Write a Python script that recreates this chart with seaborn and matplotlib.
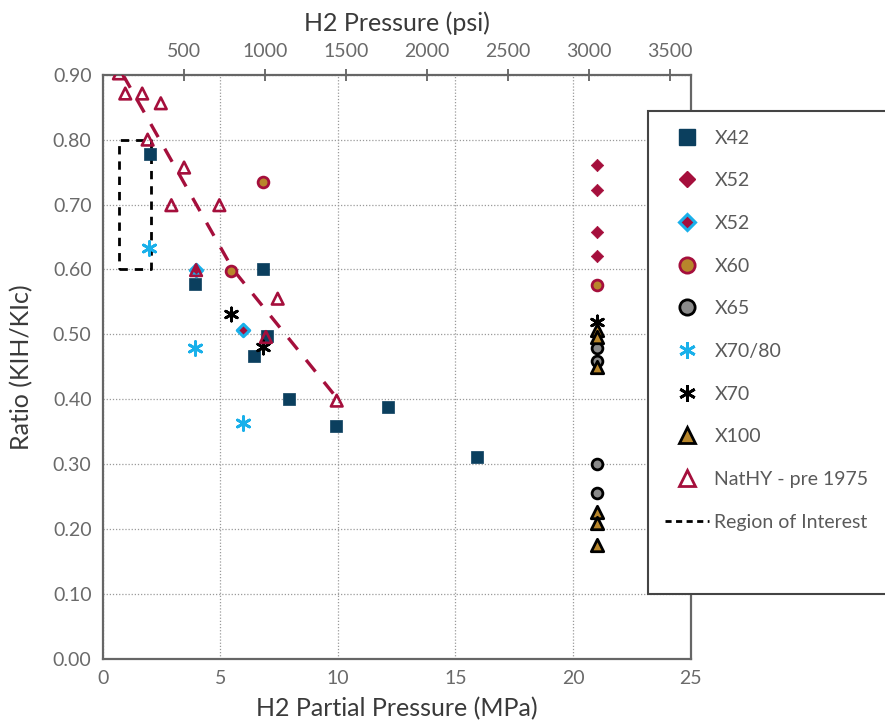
import numpy as np
import pandas as pd
import matplotlib
matplotlib.use("Agg")
import matplotlib.pyplot as plt
import seaborn as sns
from matplotlib.lines import Line2D
from matplotlib.patches import Rectangle

# ---------------- data (MPa, ratio) ----------------
x42_x = [2.02, 3.94, 6.82, 6.44, 6.99, 7.92, 9.92, 12.15, 15.92]
x42_y = [0.778, 0.578, 0.600, 0.467, 0.497, 0.400, 0.359, 0.388, 0.311]

x52_x = [21.03, 21.03, 21.03, 21.03]
x52_y = [0.761, 0.723, 0.657, 0.621]

x52b_x = [3.97, 5.97]
x52b_y = [0.599, 0.507]

x60_x = [6.83, 5.46, 21.03]
x60_y = [0.734, 0.598, 0.576]

x65_x = [21.03, 21.03, 21.03, 21.03]
x65_y = [0.479, 0.459, 0.300, 0.256]

x7080_x = [1.97, 3.94, 5.95]
x7080_y = [0.633, 0.479, 0.364]

x70_x = [5.46, 6.83, 21.03]
x70_y = [0.532, 0.481, 0.519]

x100_x = [21.03, 21.03, 21.03, 21.03, 21.03, 21.03]
x100_y = [0.507, 0.496, 0.450, 0.227, 0.209, 0.176]

nathy_x = [0.69, 0.96, 1.68, 2.47, 1.91, 3.46, 2.92, 4.96, 3.97, 7.44, 6.94, 9.95]
nathy_y = [0.902, 0.871, 0.871, 0.856, 0.800, 0.757, 0.699, 0.699, 0.599, 0.555, 0.496, 0.398]

trend_x = [0.86, 5.54, 10.0]
trend_y = [0.900, 0.600, 0.400]

roi_x = [0.69, 2.07]   # 100 - 300 psi
roi_y = [0.60, 0.80]

xticks = [0, 5, 10, 15, 20, 25]
yticks = [0.0, 0.1, 0.2, 0.3, 0.4, 0.5, 0.6, 0.7, 0.8, 0.9]
psi_ticks = [500, 1000, 1500, 2000, 2500, 3000, 3500]

labels = ["X42", "X52", "X52", "X60", "X65", "X70/80", "X70", "X100",
          "NatHY - pre 1975", "Region of Interest"]

# ---------------- style ----------------
NAVY = "#0b3f5e"
CRIMSON = "#a50f3c"
CYAN = "#19b0ea"
GOLD = "#b8862b"
GRAY = "#8a8a8a"

sns.set_theme(style="white")
FONT = ["Lato", "DejaVu Sans"]
plt.rcParams["font.family"] = FONT

fig = plt.figure(figsize=(8.85, 7.23), dpi=100)
W, H = 885, 723
ax = fig.add_axes([102.7 / W, 1 - 659 / H, (690.7 - 102.7) / W, (659 - 74.7) / H])

# grid
ax.set_xlim(0, 25)
ax.set_ylim(0, 0.9)
ax.set_xticks(xticks)
ax.set_yticks(yticks)
ax.grid(True, linestyle=(0, (1, 1.5)), color="#9a9a9a", linewidth=0.9)
ax.set_axisbelow(True)

# trend line
sns.lineplot(x=trend_x, y=trend_y, ax=ax, sort=False, color=CRIMSON,
             linewidth=2.4, dashes=False, zorder=2)
ax.lines[-1].set_dashes((4.5, 4))

# region of interest
rx = [roi_x[0], roi_x[1], roi_x[1], roi_x[0], roi_x[0]]
ry = [roi_y[0], roi_y[0], roi_y[1], roi_y[1], roi_y[0]]
ax.plot(rx, ry, color="black", linewidth=2, linestyle=(0, (3, 2.5)), zorder=2)

# series
sns.scatterplot(x=x42_x, y=x42_y, ax=ax, marker="s", s=80, color=NAVY,
                edgecolor=NAVY, linewidth=0.5, zorder=3)
sns.scatterplot(x=x52_x, y=x52_y, ax=ax, marker="D", s=40, color=CRIMSON,
                edgecolor=CRIMSON, linewidth=0.5, zorder=3)
sns.scatterplot(x=x52b_x, y=x52b_y, ax=ax, marker="D", s=40, color=CRIMSON,
                edgecolor=CYAN, linewidth=2.2, zorder=3)
sns.scatterplot(x=x60_x, y=x60_y, ax=ax, marker="o", s=60, color=GOLD,
                edgecolor=CRIMSON, linewidth=2, zorder=3)
sns.scatterplot(x=x65_x, y=x65_y, ax=ax, marker="o", s=60, color=GRAY,
                edgecolor="black", linewidth=2, zorder=3)
sns.scatterplot(x=x7080_x, y=x7080_y, ax=ax, marker=(6, 2, 0), s=100,
                color=CYAN, linewidth=2, zorder=4)
sns.scatterplot(x=x70_x, y=x70_y, ax=ax, marker=(6, 2, 0), s=90,
                color="black", linewidth=2, zorder=4)
sns.scatterplot(x=x100_x, y=x100_y, ax=ax, marker="^", s=80, color=GOLD,
                edgecolor="black", linewidth=2, zorder=4)
sns.scatterplot(x=nathy_x, y=nathy_y, ax=ax, marker="^", s=70, color="none",
                edgecolor=CRIMSON, linewidth=1.9, zorder=5)

# spines & ticks
for sp in ax.spines.values():
    sp.set_color("#666666")
    sp.set_linewidth(1.6)
ax.tick_params(axis="both", length=0, labelsize=14, labelcolor="#6a6a6a", pad=8)
ax.set_yticklabels([f"{v:.2f}" for v in yticks])
ax.set_xticklabels([str(v) for v in xticks])
ax.set_xlabel("H2 Partial Pressure (MPa)", fontsize=18, color="#3a3a3a", labelpad=7)
ax.set_ylabel("Ratio (KIH/KIc)", fontsize=18, color="#3a3a3a", labelpad=14)

sec = ax.secondary_xaxis("top", functions=(lambda m: m * 145.038, lambda p: p / 145.038))
sec.set_xticks(psi_ticks)
sec.set_xticklabels([str(v) for v in psi_ticks])
sec.tick_params(direction="inout", length=9, width=1.2, color="#555555",
                labelsize=14, labelcolor="#6a6a6a", pad=6)
sec.spines["top"].set_visible(False)
sec.set_xlabel("H2 Pressure (psi)", fontsize=18, color="#3a3a3a", labelpad=9)

# legend
handles = [
    Line2D([], [], linestyle="none", marker="s", markersize=11, color=NAVY),
    Line2D([], [], linestyle="none", marker="D", markersize=8, color=CRIMSON),
    Line2D([], [], linestyle="none", marker="D", markersize=8, markerfacecolor=CRIMSON,
           markeredgecolor=CYAN, markeredgewidth=2.2),
    Line2D([], [], linestyle="none", marker="o", markersize=11, markerfacecolor=GOLD,
           markeredgecolor=CRIMSON, markeredgewidth=2),
    Line2D([], [], linestyle="none", marker="o", markersize=11, markerfacecolor=GRAY,
           markeredgecolor="black", markeredgewidth=2),
    Line2D([], [], linestyle="none", marker=(6, 2, 0), markersize=12, color=CYAN,
           markeredgewidth=2),
    Line2D([], [], linestyle="none", marker=(6, 2, 0), markersize=12, color="black",
           markeredgewidth=2),
    Line2D([], [], linestyle="none", marker="^", markersize=11, markerfacecolor=GOLD,
           markeredgecolor="black", markeredgewidth=2),
    Line2D([], [], linestyle="none", marker="^", markersize=11, markerfacecolor="white",
           markeredgecolor=CRIMSON, markeredgewidth=2),
    Line2D([], [], color="black", linewidth=2, linestyle=(0, (2.2, 1.6))),
]
leg = fig.legend(handles, labels, loc="upper left",
                 bbox_to_anchor=(651 / W, 1 - 116 / H), frameon=False,
                 fontsize=14, handlelength=2.3, handletextpad=0.26,
                 labelspacing=1.32, borderpad=0.2)
for t in leg.get_texts():
    t.set_color("#5a5a5a")

fig.patches.append(Rectangle((648 / W, 1 - 594 / H), (905 - 648) / W, (594 - 111) / H,
                             transform=fig.transFigure, facecolor="white",
                             edgecolor="#444444", linewidth=1.5, zorder=3,
                             clip_on=False))

fig.savefig("out.png", dpi=100)
